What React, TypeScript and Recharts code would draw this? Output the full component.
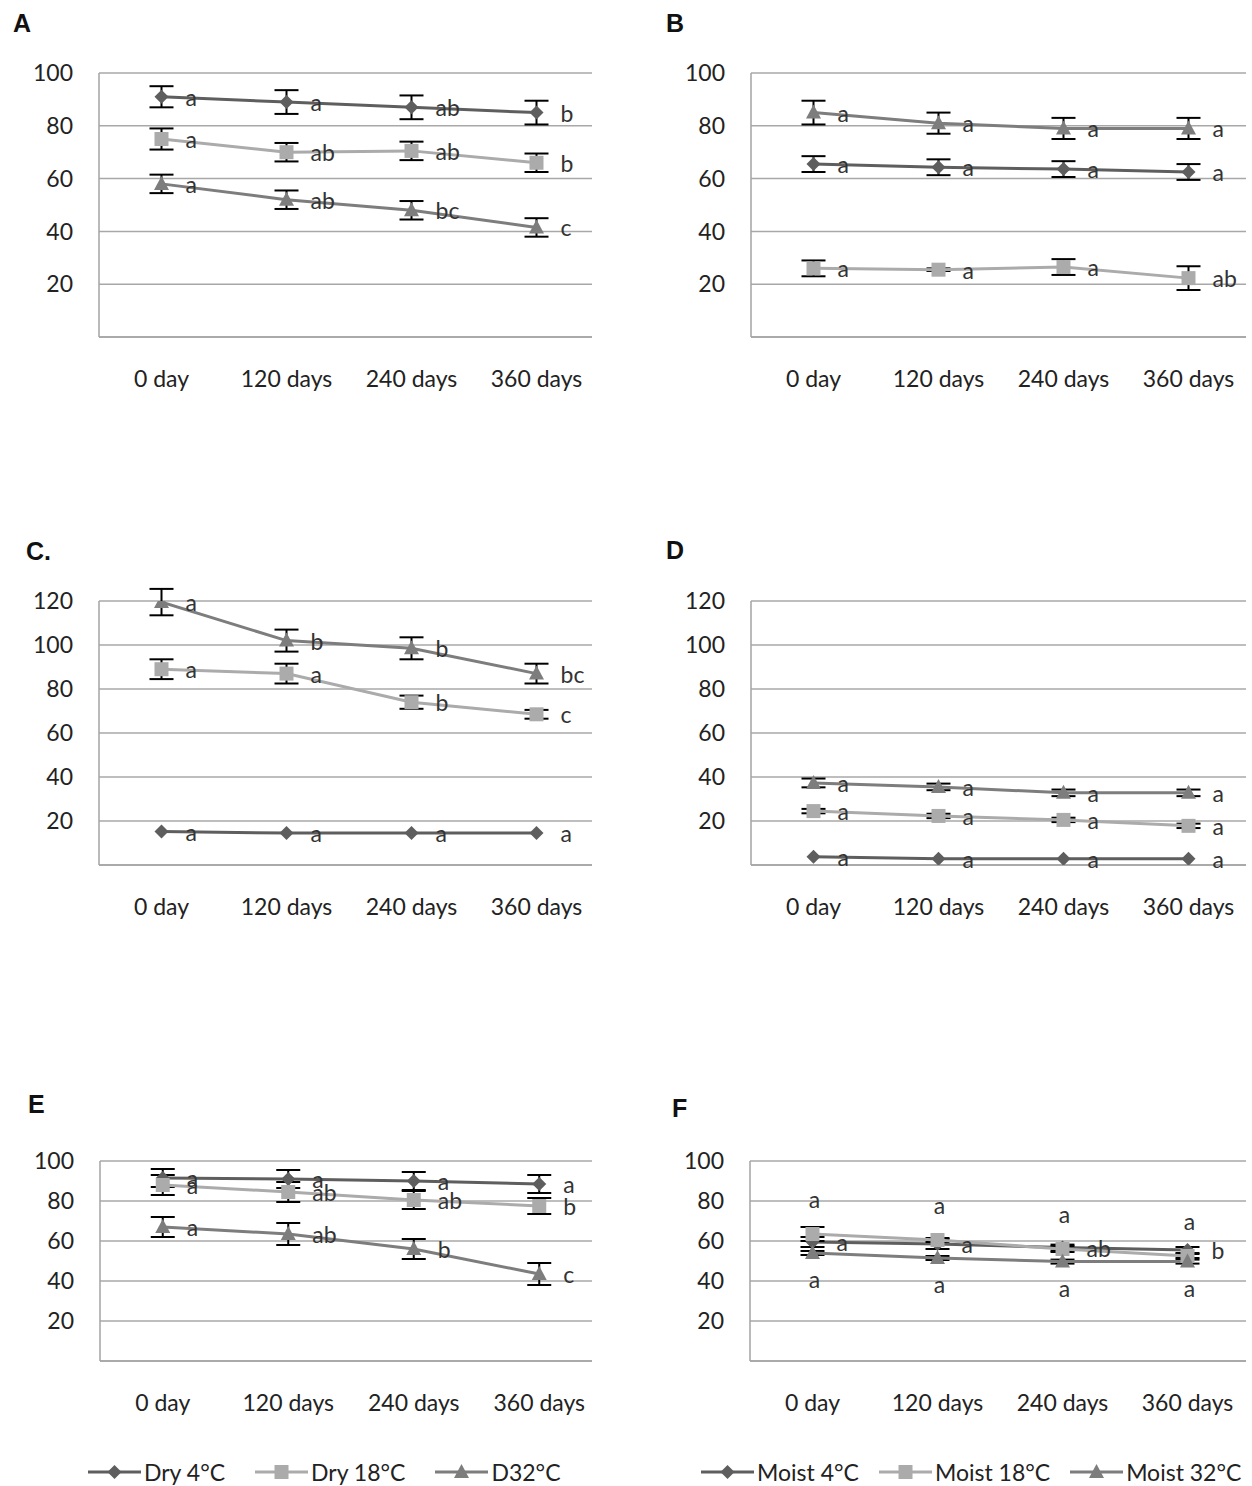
import React from "react";
import {
  LineChart,
  Line,
  XAxis,
  YAxis,
  CartesianGrid,
  ErrorBar,
  LabelList,
  Legend,
} from "recharts";

const FONT = "Lato, 'Open Sans', sans-serif";

// categories and axis ticks
const days = ["0 day", "120 days", "240 days", "360 days"];
const ticks100 = [20, 40, 60, 80, 100];
const ticks120 = [20, 40, 60, 80, 100, 120];

const dryNames = ["Dry 4°C", "Dry 18°C", "D32°C"];
const moistNames = ["Moist 4°C", "Moist 18°C", "Moist 32°C"];

// A – dry
const dry4A = [91, 89, 87, 85];
const dry4AErr = [4, 4.5, 4.5, 4.5];
const dry4ALetters = ["a", "a", "ab", "b"];
const dry18A = [75, 70, 70.5, 66];
const dry18AErr = [4, 3.5, 3.5, 3.5];
const dry18ALetters = ["a", "ab", "ab", "b"];
const dry32A = [58, 52, 48, 41.5];
const dry32AErr = [3.5, 3.5, 3.5, 3.5];
const dry32ALetters = ["a", "ab", "bc", "c"];

// B – moist
const moist4B = [65.5, 64.3, 63.6, 62.5];
const moist4BErr = [3, 3, 3, 3];
const moist4BLetters = ["a", "a", "a", "a"];
const moist18B = [26, 25.5, 26.5, 22.3];
const moist18BErr = [3, 0.5, 3, 4.5];
const moist18BLetters = ["a", "a", "a", "ab"];
const moist32B = [85, 81, 79, 79];
const moist32BErr = [4.5, 4, 4, 4];
const moist32BLetters = ["a", "a", "a", "a"];

// C – dry
const dry4C = [15.2, 14.5, 14.5, 14.5];
const dry4CErr = [0, 0, 0, 0];
const dry4CLetters = ["a", "a", "a", "a"];
const dry18C = [89, 87, 74, 68.5];
const dry18CErr = [4.5, 4.5, 3, 2];
const dry18CLetters = ["a", "a", "b", "c"];
const dry32C = [119.5, 102, 98.5, 87];
const dry32CErr = [6, 5, 5, 4.5];
const dry32CLetters = ["a", "b", "b", "bc"];

// D – moist
const moist4D = [3.7, 2.8, 2.8, 2.8];
const moist4DErr = [0, 0, 0, 0];
const moist4DLetters = ["a", "a", "a", "a"];
const moist18D = [24.5, 22.3, 20.5, 17.8];
const moist18DErr = [1, 1, 1, 1];
const moist18DLetters = ["a", "a", "a", "a"];
const moist32D = [37.3, 35.5, 32.8, 32.8];
const moist32DErr = [2, 1.5, 1.5, 1.5];
const moist32DLetters = ["a", "a", "a", "a"];

// E – dry
const dry4E = [91.5, 91, 90, 88.5];
const dry4EErr = [4.5, 4.5, 4.5, 4.5];
const dry4ELetters = ["a", "a", "a", "a"];
const dry18E = [88, 84.5, 80.5, 77.5];
const dry18EErr = [5, 5, 4.5, 4];
const dry18ELetters = ["a", "ab", "ab", "b"];
const dry32E = [67, 63.5, 56, 43.5];
const dry32EErr = [5, 5.5, 5, 5.5];
const dry32ELetters = ["a", "ab", "b", "c"];

// F – moist
const moist4F = [59.5, 58.5, 56.7, 55.5];
const moist4FErr = [2.5, 2.5, 1.5, 1.5];
const moist4FLetters = ["a", "a", "ab", "b"];
const moist18F = [63.5, 60.5, 56, 52.5];
const moist18FErr = [3.5, 1, 1.5, 1];
const moist18FLetters = ["a", "a", "a", "a"];
const moist32F = [54, 51.5, 49.7, 49.7];
const moist32FErr = [1, 1, 1, 1];
const moist32FLetters = ["a", "a", "a", "a"];

type Row = Record<string, string | number>;

const buildRows = (
  v4: number[], e4: number[], l4: string[],
  v18: number[], e18: number[], l18: string[],
  v32: number[], e32: number[], l32: string[]
): Row[] =>
  days.map((day, i) => ({
    day,
    v4: v4[i], e4: e4[i], l4: l4[i],
    v18: v18[i], e18: e18[i], l18: l18[i],
    v32: v32[i], e32: e32[i], l32: l32[i],
  }));

const SERIES = [
  { key: "4", color: "#5e5e5e", shape: "diamond" },
  { key: "18", color: "#ababab", shape: "square" },
  { key: "32", color: "#7d7d7d", shape: "triangle" },
];

const Marker = ({ shape, cx, cy, color }: { shape: string; cx: number; cy: number; color: string }) => {
  if (shape === "diamond")
    return <polygon points={`${cx},${cy - 7} ${cx + 7},${cy} ${cx},${cy + 7} ${cx - 7},${cy}`} fill={color} />;
  if (shape === "square") return <rect x={cx - 7} y={cy - 7} width={14} height={14} fill={color} />;
  return <polygon points={`${cx},${cy - 8} ${cx + 7.5},${cy + 6} ${cx - 7.5},${cy + 6}`} fill={color} />;
};

// letter placement: right of the point, or above / below it (panel F)
const letterContent = (mode: string) => (props: any) => {
  const { x, y, value, index } = props;
  if (x == null || y == null) return null;
  let tx = x + 24;
  let ty = y + 9;
  let anchor: "start" | "middle" = "start";
  if (mode === "above") {
    tx = x + 2;
    ty = y - 26;
    anchor = "middle";
  } else if (mode === "below") {
    tx = x + 2;
    ty = y + 35;
    anchor = "middle";
  }
  return (
    <text key={`l-${index}`} x={tx} y={ty} textAnchor={anchor} fontSize={23} fontFamily={FONT} fill="#333">
      {value}
    </text>
  );
};

const makeLegend = (names: string[], gap: number) => () => (
  <div style={{ display: "flex", alignItems: "center", height: 30, fontFamily: FONT, fontSize: 23, color: "#222" }}>
    {names.map((name, i) => (
      <div key={name} style={{ display: "flex", alignItems: "center", marginRight: gap }}>
        <svg width={53} height={20}>
          <line x1={0} y1={10} x2={53} y2={10} stroke={SERIES[i].color} strokeWidth={3} />
          <Marker shape={SERIES[i].shape} cx={26.5} cy={10} color={SERIES[i].color} />
        </svg>
        <span style={{ marginLeft: 3, whiteSpace: "nowrap" }}>{name}</span>
      </div>
    ))}
  </div>
);

type PanelProps = {
  left: number;
  top: number;
  width: number;
  height: number;
  plotLeft: number;
  plotTop: number;
  plotBottom: number;
  plotRight: number;
  yMax: number;
  ticks: number[];
  rows: Row[];
  names: string[];
  modes?: string[];
  legend?: { left: number; top: number; gap: number };
};

const axisStroke = { stroke: "#a3a3a3", strokeWidth: 1.5 };
const tickStyle = { fill: "#222", fontSize: 23, fontFamily: FONT };

function Panel(p: PanelProps) {
  const band = (p.plotRight - p.plotLeft) / days.length;
  return (
    <div style={{ position: "absolute", left: p.left, top: p.top }}>
      <LineChart
        width={p.width}
        height={p.height}
        data={p.rows}
        margin={{ top: p.plotTop - p.top, right: p.left + p.width - p.plotRight, left: 0, bottom: 0 }}
      >
        <CartesianGrid horizontal vertical={false} stroke="#a8a8a8" strokeWidth={1.5} />
        <XAxis
          dataKey="day"
          height={p.top + p.height - p.plotBottom}
          padding={{ left: band / 2, right: band / 2 }}
          axisLine={axisStroke}
          tickLine={false}
          tickSize={0}
          tickMargin={34}
          tick={tickStyle}
          interval={0}
        />
        <YAxis
          width={p.plotLeft - p.left}
          domain={[0, p.yMax]}
          ticks={p.ticks}
          allowDataOverflow
          axisLine={axisStroke}
          tickLine={false}
          tickSize={0}
          tickMargin={26}
          tick={tickStyle}
        />
        {SERIES.map((s, i) => (
          <Line
            key={s.key}
            dataKey={`v${s.key}`}
            name={p.names[i]}
            stroke={s.color}
            strokeWidth={3}
            activeDot={false}
            isAnimationActive={false}
            dot={(d: any) => <Marker key={`d-${s.key}-${d.index}`} shape={s.shape} cx={d.cx} cy={d.cy} color={s.color} />}
          >
            <ErrorBar dataKey={`e${s.key}`} width={12} stroke="#000" strokeWidth={2} direction="y" isAnimationActive={false} />
            <LabelList dataKey={`l${s.key}`} content={letterContent(p.modes ? p.modes[i] : "right")} />
          </Line>
        ))}
        {p.legend && (
          <Legend
            layout="horizontal"
            verticalAlign="middle"
            align="center"
            wrapperStyle={{ left: p.legend.left, top: p.legend.top, width: 600, height: 30 }}
            content={makeLegend(p.names, p.legend.gap)}
          />
        )}
      </LineChart>
    </div>
  );
}

const rowsA = buildRows(dry4A, dry4AErr, dry4ALetters, dry18A, dry18AErr, dry18ALetters, dry32A, dry32AErr, dry32ALetters);
const rowsB = buildRows(moist4B, moist4BErr, moist4BLetters, moist18B, moist18BErr, moist18BLetters, moist32B, moist32BErr, moist32BLetters);
const rowsC = buildRows(dry4C, dry4CErr, dry4CLetters, dry18C, dry18CErr, dry18CLetters, dry32C, dry32CErr, dry32CLetters);
const rowsD = buildRows(moist4D, moist4DErr, moist4DLetters, moist18D, moist18DErr, moist18DLetters, moist32D, moist32DErr, moist32DLetters);
const rowsE = buildRows(dry4E, dry4EErr, dry4ELetters, dry18E, dry18EErr, dry18ELetters, dry32E, dry32EErr, dry32ELetters);
const rowsF = buildRows(moist4F, moist4FErr, moist4FLetters, moist18F, moist18FErr, moist18FLetters, moist32F, moist32FErr, moist32FLetters);

const titles = [
  { text: "A", x: 13, y: 32 },
  { text: "B", x: 666, y: 32 },
  { text: "C.", x: 26, y: 560 },
  { text: "D", x: 666, y: 559 },
  { text: "E", x: 28, y: 1113 },
  { text: "F", x: 672, y: 1117 },
];

export default function App() {
  return (
    <div style={{ position: "absolute", left: 0, top: 0, width: 1252, height: 1486, background: "#fff", overflow: "hidden" }}>
      <Panel left={0} top={40} width={592} height={370} plotLeft={99} plotTop={73} plotBottom={337} plotRight={599}
        yMax={100} ticks={ticks100} rows={rowsA} names={dryNames} />
      <Panel left={630} top={40} width={616} height={370} plotLeft={751} plotTop={73} plotBottom={337} plotRight={1251}
        yMax={100} ticks={ticks100} rows={rowsB} names={moistNames} />
      <Panel left={0} top={570} width={592} height={370} plotLeft={99} plotTop={601} plotBottom={865} plotRight={599}
        yMax={120} ticks={ticks120} rows={rowsC} names={dryNames} />
      <Panel left={630} top={570} width={616} height={370} plotLeft={751} plotTop={601} plotBottom={865} plotRight={1251}
        yMax={120} ticks={ticks120} rows={rowsD} names={moistNames} />
      <Panel left={0} top={1130} width={592} height={356} plotLeft={100} plotTop={1161} plotBottom={1361} plotRight={602}
        yMax={100} ticks={ticks100} rows={rowsE} names={dryNames} legend={{ left: 88, top: 327, gap: 30 }} />
      <Panel left={630} top={1130} width={616} height={356} plotLeft={750} plotTop={1161} plotBottom={1361} plotRight={1250}
        yMax={100} ticks={ticks100} rows={rowsF} names={moistNames} modes={["right", "above", "below"]}
        legend={{ left: 71, top: 327, gap: 20 }} />
      <svg width={1252} height={1486} style={{ position: "absolute", left: 0, top: 0, pointerEvents: "none" }}>
        {titles.map((t) => (
          <text key={t.text} x={t.x} y={t.y} fontSize={25} fontWeight="bold" fontFamily="'Liberation Sans', Arial, sans-serif" fill="#111">
            {t.text}
          </text>
        ))}
      </svg>
    </div>
  );
}
